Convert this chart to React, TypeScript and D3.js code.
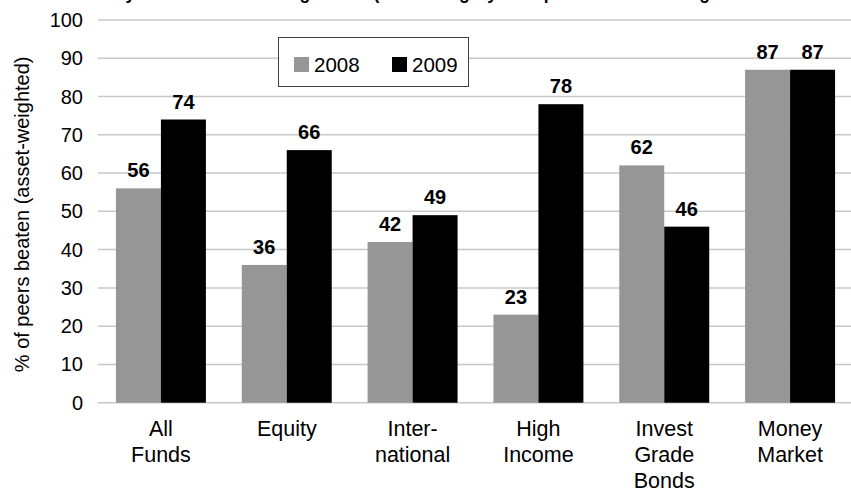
import React, { useEffect, useRef } from 'react';
import * as d3 from 'd3';

const categories = ['All\nFunds', 'Equity', 'Inter-\nnational', 'High\nIncome', 'Invest\nGrade\nBonds', 'Money\nMarket'];
const seriesNames = ['2008', '2009'];
const values2008 = [56, 36, 42, 23, 62, 87];
const values2009 = [74, 66, 49, 78, 46, 87];
const yTicks = [0, 10, 20, 30, 40, 50, 60, 70, 80, 90, 100];
const colors = ['#969696', '#000000'];
const title = 'Fidelity Fund Results Rating 2008/9 (% of Category Group Funds Outranking';
const yLabel = '% of peers beaten (asset-weighted)';

const App = () => {
    const ref = useRef<SVGSVGElement | null>(null);

    useEffect(() => {
        const width = 851;
        const font = 'Liberation Sans, Arial, sans-serif';

        const svg = d3.select(ref.current);
        svg.selectAll('*').remove();

        const x0 = d3.scaleBand().domain(categories).range([98, 853]).paddingInner(0.285).paddingOuter(0.1425);
        const x1 = d3.scaleBand().domain(seriesNames).range([0, x0.bandwidth()]);
        const y = d3.scaleLinear().domain([0, 100]).range([402.7, 20]);

        // title, cut off at the top like the original (only descenders show)
        svg.append('text')
            .attr('x', 74)
            .attr('y', -0.8)
            .attr('font-family', font)
            .attr('font-size', 17.5)
            .attr('font-weight', 'bold')
            .text(title);

        // gridlines
        svg.append('g')
            .selectAll('line')
            .data(yTicks)
            .join('line')
            .attr('x1', 98)
            .attr('x2', width)
            .attr('y1', d => y(d))
            .attr('y2', d => y(d))
            .attr('stroke', '#c8c8c8')
            .attr('stroke-width', 1.5);

        // tick labels
        svg.append('g')
            .attr('font-family', font)
            .attr('font-size', 20)
            .attr('text-anchor', 'end')
            .selectAll('text')
            .data(yTicks)
            .join('text')
            .attr('x', 83)
            .attr('y', d => y(d))
            .attr('dy', '0.35em')
            .attr('fill', '#000')
            .text(d => d);

        // y axis title
        svg.append('text')
            .attr('transform', `translate(29,${y(50) + 3}) rotate(-90)`)
            .attr('text-anchor', 'middle')
            .attr('font-family', font)
            .attr('font-size', 20)
            .text(yLabel);

        const rows = categories.map((c, i) => ({ cat: c, vals: [values2008[i], values2009[i]] }));

        const groups = svg.append('g')
            .selectAll('g')
            .data(rows)
            .join('g')
            .attr('transform', d => `translate(${x0(d.cat)},0)`);

        groups.selectAll('rect')
            .data(d => d.vals.map((v, j) => ({ key: seriesNames[j], v, j })))
            .join('rect')
            .attr('x', d => x1(d.key)!)
            .attr('width', x1.bandwidth())
            .attr('y', d => y(d.v))
            .attr('height', d => y(0) - y(d.v))
            .attr('fill', d => colors[d.j]);

        groups.selectAll('text.val')
            .data(d => d.vals.map((v, j) => ({ key: seriesNames[j], v })))
            .join('text')
            .attr('class', 'val')
            .attr('x', d => x1(d.key)! + x1.bandwidth() / 2)
            .attr('y', d => y(d.v) - 11)
            .attr('text-anchor', 'middle')
            .attr('font-family', font)
            .attr('font-size', 20)
            .attr('font-weight', 'bold')
            .text(d => d.v);

        // category labels
        svg.append('g')
            .attr('font-family', font)
            .attr('font-size', 21.5)
            .attr('text-anchor', 'middle')
            .selectAll('text')
            .data(categories)
            .join('text')
            .attr('transform', d => `translate(${x0(d)! + x0.bandwidth() / 2},436)`)
            .each(function (d) {
                const t = d3.select(this);
                d.split('\n').forEach((line, i) => {
                    t.append('tspan').attr('x', 0).attr('y', i * 26).text(line);
                });
            });

        // legend
        const lg = svg.append('g');
        lg.append('rect')
            .attr('x', 278.5)
            .attr('y', 37.5)
            .attr('width', 190)
            .attr('height', 49)
            .attr('fill', '#fff')
            .attr('stroke', '#404040')
            .attr('stroke-width', 1);
        const items = lg.selectAll('g')
            .data(seriesNames)
            .join('g')
            .attr('transform', (d, i) => `translate(${294 + i * 98},57)`);
        items.append('rect')
            .attr('width', 15)
            .attr('height', 15)
            .attr('fill', (d, i) => colors[i]);
        items.append('text')
            .attr('x', 20)
            .attr('y', 7.5)
            .attr('dy', '0.35em')
            .attr('font-family', font)
            .attr('font-size', 20.5)
            .text(d => d);
    }, []);

    return (
        <svg ref={ref} width={851} height={491} style={{ position: 'absolute', left: 0, top: 0, background: '#fff' }} />
    );
};

export default App;
